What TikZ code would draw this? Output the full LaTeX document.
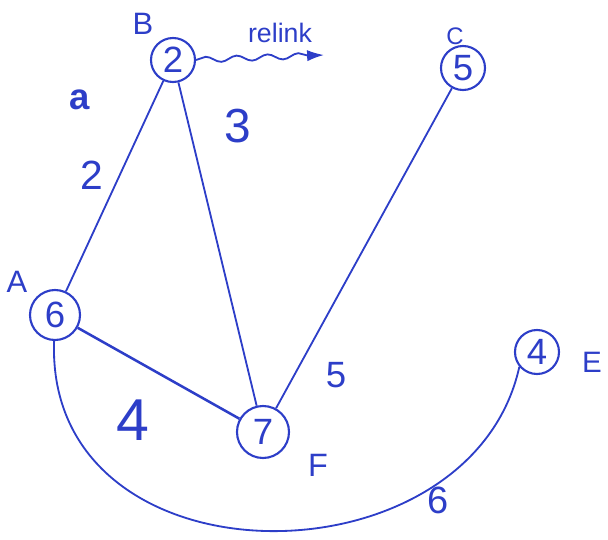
\documentclass[tikz,border=0pt]{standalone}
\usepackage{fontspec}
\setmainfont{Liberation Sans}
\definecolor{penblue}{RGB}{45,62,200}
\usetikzlibrary{arrows.meta, decorations.pathmorphing}

\begin{document}
\begin{tikzpicture}[
    x=0.025cm, y=-0.025cm,
    vertex/.style={circle, draw=penblue, line width=1.5pt, minimum size=1.1cm,
      inner sep=0pt, text=penblue, font=\fontsize{26}{26}\selectfont},
    vname/.style={text=penblue, font=\fontsize{#1}{#1}\selectfont},
    weight/.style={text=penblue, font=\fontsize{#1}{#1}\selectfont},
    edge/.style={draw=penblue, line width=1.3pt},
  ]
    \useasboundingbox (0,0) rectangle (608,540);
    % vertices
    \node[vertex] (b) at (173,60) {2};
    \node[vertex] (c) at (463,68) {5};
    \node[vertex, minimum size=1.25cm] (a) at (55,315) {6};
    \node[vertex, minimum size=1.3cm] (f) at (263,432) {7};
    \node[vertex] (e) at (537,352) {4};
    % vertex names
    \node[vname=22] (bl) at (143,24) {B};
    \node[vname=17] (cl) at (455,36) {C};
    \node[vname=22] (al) at (17,282) {A};
    \node[vname=23] (fl) at (318,465) {F};
    \node[vname=21] (el) at (592,362) {E};
    % edges
    \draw[edge] (a) -- (b);
    \draw[edge] (b) -- (f);
    \draw[edge] (c) -- (f);
    \draw[edge, line width=1.8pt] (a) -- (f);
    \draw[edge] (a.268) .. controls (45,590) and (470,590) .. (e.220);
    % weights
    \node[weight=29] (w1) at (92,175) {2};
    \node[weight=34] (w2) at (238,126) {3};
    \node[weight=26] (w3) at (336,375) {5};
    \node[weight=42] (w4) at (133,420) {4};
    \node[weight=27] (w5) at (438,500) {6};
    \node[weight=26, font=\fontsize{26}{26}\bfseries] (mark) at (80,100) {a};
    % relink
    \coordinate (rl) at (324,55);
    \draw[edge, decorate, decoration={snake, amplitude=2pt, segment length=22pt,
      post length=10pt}, -{Latex[length=12pt, width=8pt]}] (b.east) -- (rl);
    \node[vname=19] (rt) at (280,33) {relink};
\end{tikzpicture}
\end{document}
